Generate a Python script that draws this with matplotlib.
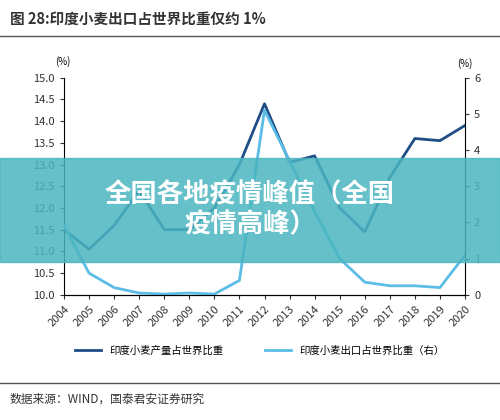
import matplotlib
matplotlib.use("Agg")
import matplotlib.pyplot as plt
from matplotlib.patches import Rectangle

plt.rcParams['font.family'] = ['Noto Sans CJK SC', 'DejaVu Sans']

years = [str(y) for y in range(2004, 2021)]
production_share = [11.5, 11.05, 11.6, 12.4, 11.5, 11.5, 12.0, 13.0, 14.4, 13.05, 13.2, 12.0, 11.45, 12.7, 13.6, 13.55, 13.9]
export_share = [1.9, 0.6, 0.2, 0.05, 0.02, 0.05, 0.02, 0.4, 5.1, 3.7, 2.3, 1.0, 0.35, 0.25, 0.25, 0.2, 1.1]

fig = plt.figure(figsize=(5, 4.2), dpi=100)
ax = fig.add_axes([0.128, 0.298, 0.802, 0.517])
ax2 = ax.twinx()
x = range(len(years))
ax.plot(x, production_share, color='#1f4e85', lw=2, solid_joinstyle='round')
ax2.plot(x, export_share, color='#5bbde6', lw=2, solid_joinstyle='round')
ax.set_xlim(0, 16)
ax.set_ylim(10, 15)
ax2.set_ylim(0, 6)
ax.set_yticks([10 + 0.5 * i for i in range(11)])
ax.set_yticklabels([f"{10 + 0.5 * i:.1f}" for i in range(11)])
ax.set_xticks(list(x))
ax.set_xticklabels(years, rotation=45, ha='right', rotation_mode='anchor')
for a in (ax, ax2):
    a.tick_params(labelsize=8, colors='#333333', length=3)
    a.spines['top'].set_visible(False)
ax.spines['right'].set_visible(False)
ax2.spines['left'].set_visible(False)
ax.text(-0.35, 15.25, '(%)', fontsize=7, ha='left', va='bottom')
ax2.text(16.3, 6.25, '(%)', fontsize=7, ha='right', va='bottom')

fig.legend(handles=ax.get_lines() + ax2.get_lines(),
           labels=['印度小麦产量占世界比重', '印度小麦出口占世界比重（右）'],
           loc='center', bbox_to_anchor=(0.52, 0.165), ncol=2, frameon=False,
           fontsize=7.5, handlelength=2.5, columnspacing=4)

fig.text(0.02, 0.975, '图 28:印度小麦出口占世界比重仅约 1%', fontsize=10.5, fontweight='bold', va='top', color='#333333')
fig.add_artist(plt.Line2D([0, 1], [0.915, 0.915], color='#555555', lw=1))
fig.add_artist(plt.Line2D([0, 1], [0.088, 0.088], color='#555555', lw=1))
fig.text(0.02, 0.05, '数据来源：WIND，国泰君安证券研究', fontsize=8.5, va='center', color='#333333')

fig.add_artist(Rectangle((0, 0.376), 1, 0.248, transform=fig.transFigure, color='#4ab5c0', alpha=0.85, zorder=10))
fig.text(0.5, 0.5, '全国各地疫情峰值（全国\n疫情高峰）', fontsize=19, fontweight='bold', color='white',
         ha='center', va='center', zorder=11, linespacing=1.15)

fig.savefig('out.png', dpi=100)
